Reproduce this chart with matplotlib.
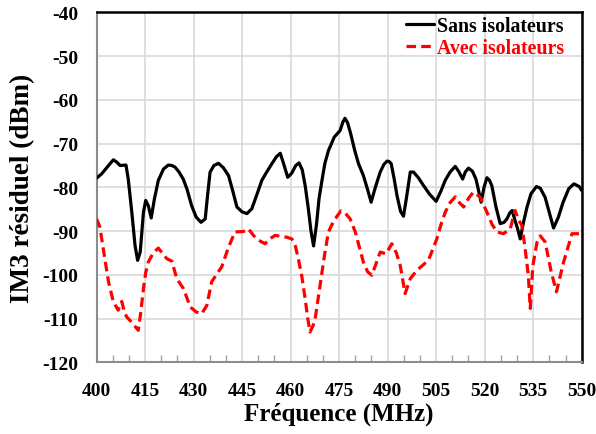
import matplotlib
matplotlib.use("Agg")
import matplotlib.pyplot as plt
from matplotlib.ticker import MultipleLocator

plt.rcParams['font.family'] = ['Liberation Serif', 'DejaVu Serif']
plt.rcParams['font.weight'] = 'bold'
plt.rcParams['axes.unicode_minus'] = False

# Sans isolateurs (black, solid)
sans_freq = [400, 401.6, 403.7, 405.2, 406.2, 407.3, 409.1, 409.8, 410.9, 411.9, 412.7, 413.5, 414.5,
             415.2, 416.0, 416.9, 417.9, 419.1, 420.7, 422.2, 423.3, 424.3, 425.5, 426.8, 428.0,
             429.4, 430.8, 432.3, 433.6, 434.3, 435.1, 436.3, 437.7, 439.2, 440.8, 442.0, 443.4,
             445.0, 446.5, 448.0, 449.5, 451.1, 452.6, 454.2, 455.6, 456.8, 457.8, 459.1, 460.3,
             461.6, 462.6, 463.6, 464.5, 465.5, 466.3, 467.1, 468.0, 468.8, 469.7, 470.6, 471.7,
             473.5, 475.3, 476.2, 476.8, 477.6, 478.5, 479.8, 481.0, 482.5, 483.8, 484.9, 486.2,
             487.7, 488.8, 489.8, 490.5, 491.1, 492.0, 492.9, 494.0, 494.9, 495.8, 497.0, 498.0,
             499.5, 501.1, 503.0, 505.0, 506.5, 507.8, 509.3, 510.9, 512.0, 513.2, 514.0, 515.0,
             516.2, 517.3, 518.2, 518.9, 519.8, 520.7, 521.5, 522.2, 523.5, 524.8, 526.0, 526.9,
             527.8, 528.5, 529.4, 530.2, 531.0, 532.0, 533.1, 534.3, 536.0, 537.2, 538.7, 540.0,
             541.3, 542.8, 544.2, 546.0, 547.6, 549.2, 550]
sans_vals = [-77.9, -76.9, -75.0, -73.7, -74.2, -75.0, -74.9, -78.1, -85.7, -93.3, -96.7, -94.8, -85.7,
             -83.0, -84.2, -87.0, -82.6, -78.4, -75.8, -74.9, -75.0, -75.4, -76.5, -78.1, -80.5,
             -84.2, -86.8, -88.0, -87.2, -82.0, -76.5, -75.0, -74.5, -75.5, -77.3, -80.5, -84.5,
             -85.6, -86.0, -84.9, -81.8, -78.4, -76.5, -74.6, -73.0, -72.2, -74.5, -77.7, -76.8,
             -75.0, -74.4, -76.0, -79.6, -85.0, -90.0, -93.4, -88.5, -82.5, -78.4, -74.5, -71.6,
             -68.5, -67.0, -65.0, -64.2, -65.2, -67.5, -71.5, -74.6, -77.3, -80.5, -83.4, -80.0,
             -76.5, -74.8, -74.0, -74.1, -74.6, -78.0, -81.9, -85.5, -86.6, -82.5, -76.5, -76.5,
             -77.8, -79.6, -81.6, -83.2, -80.8, -78.4, -76.5, -75.2, -76.4, -78.1, -76.5, -75.6,
             -76.3, -78.1, -81.0, -83.4, -80.0, -77.8, -78.4, -79.6, -84.5, -88.3, -88.0, -87.2,
             -85.8, -85.3, -87.6, -89.5, -91.8, -88.0, -84.5, -81.5, -79.8, -80.2, -82.3, -85.8,
             -89.3, -86.8, -83.5, -80.3, -79.2, -79.8, -80.7]

# Avec isolateurs (red, dashed)
avec_freq = [400, 401.0, 401.6, 402.7, 403.7, 405.2, 406.7, 407.4, 407.8, 408.6, 409.3, 411.0, 412.9,
             413.6, 414.5, 415.2, 416.0, 417.5, 419.1, 420.5, 421.7, 423.3, 424.8, 426.9, 429.0,
             430.8, 432.5, 434.1, 435.6, 437.2, 438.7, 440.8, 442.8, 445.4, 447.0, 448.5, 450.1,
             452.1, 453.5, 455.2, 457.0, 458.8, 460.4, 461.5, 462.4, 463.5, 464.5, 465.3, 466.0,
             467.0, 467.6, 468.7, 469.7, 470.7, 471.7, 472.8, 473.8, 475.5, 477.0, 478.4, 480.0,
             481.3, 482.5, 483.8, 485.1, 486.4, 487.7, 489.5, 491.3, 492.7, 493.9, 495.4, 497.0,
             499.0, 502.6, 505.2, 506.5, 507.8, 509.3, 510.9, 512.2, 513.5, 515.0, 516.5, 518.6,
             520.7, 522.3, 523.8, 525.8, 527.9, 529.4, 530.5, 531.5, 532.5, 533.5, 534.1, 534.9,
             536.2, 537.2, 538.7, 540.6, 542.2, 544.4, 547.0, 549.1, 550]
avec_vals = [-87.2, -89.0, -91.8, -97.0, -101.6, -106.2, -108.1, -106.6, -106.1, -108.5, -109.6, -111.0,
             -112.7, -109.0, -103.2, -99.5, -97.1, -95.0, -93.9, -95.2, -96.3, -96.9, -100.9, -103.2,
             -107.4, -108.5, -108.9, -107.0, -101.6, -99.8, -98.2, -93.7, -90.2, -90.1, -89.5, -91.0,
             -92.1, -92.9, -91.8, -91.0, -91.2, -91.4, -91.8, -93.5, -96.4, -100.5, -105.5, -110.0,
             -113.1, -111.5, -110.0, -104.5, -99.4, -94.5, -90.2, -88.5, -87.2, -85.4, -86.0, -87.2,
             -90.2, -93.8, -97.1, -99.3, -100.1, -97.5, -94.8, -95.2, -92.9, -95.0, -97.9, -104.3,
             -100.9, -99.0, -96.7, -91.8, -88.5, -85.7, -83.5, -82.2, -83.5, -84.5, -82.5, -81.1,
             -82.2, -85.7, -88.5, -90.2, -90.6, -89.5, -85.3, -87.5, -88.7, -94.0, -100.1, -107.7,
             -97.9, -92.5, -91.1, -92.5, -99.4, -103.9, -97.1, -90.6, -90.6, -90.5]

x_ticks = [400, 415, 430, 445, 460, 475, 490, 505, 520, 535, 550]
y_ticks = [-120, -110, -100, -90, -80, -70, -60, -50, -40]

fig = plt.figure(figsize=(5.96, 4.35), dpi=100)
ax = fig.add_axes([0.162, 0.165, 0.814, 0.804])

ax.plot(sans_freq, sans_vals, color='black', lw=2.3, solid_joinstyle='round',
        solid_capstyle='round', label='Sans isolateurs', zorder=3)
ax.plot(avec_freq, avec_vals, color='#ff0000', lw=2.3, linestyle=(0, (3, 1.6)),
        dash_joinstyle='round', label='Avec isolateurs', zorder=3)

ax.set_xlim(400, 550)
ax.set_ylim(-120, -40)
ax.set_xticks(x_ticks)
ax.set_yticks(y_ticks)
ax.xaxis.set_minor_locator(MultipleLocator(5))
ax.grid(True, which='major', color='#d9d9d9', lw=1.2, zorder=0)
ax.set_axisbelow(True)

ax.tick_params(axis='x', which='major', length=0, pad=14, labelsize=14)
ax.tick_params(axis='x', which='minor', direction='in', length=5, color='#a0a0a0', width=1)
ax.tick_params(axis='y', which='major', length=0, pad=13, labelsize=14)
for lab in ax.get_xticklabels() + ax.get_yticklabels():
    lab.set_fontweight('bold')

for s in ['left', 'bottom']:
    ax.spines[s].set_color('#8c8c8c')
    ax.spines[s].set_linewidth(1.5)
for s in ['top', 'right']:
    ax.spines[s].set_color('black')
    ax.spines[s].set_linewidth(1.8)

ax.set_xlabel('Fréquence (MHz)', fontsize=18, fontweight='bold', labelpad=2)
ax.set_ylabel('IM3 résiduel (dBm)', fontsize=19.5, fontweight='bold', labelpad=5)

leg = ax.legend(loc='upper right', bbox_to_anchor=(0.985, 1.018), frameon=False,
                handlelength=1.45, handletextpad=0.15, labelspacing=0.1,
                borderpad=0.0, prop={'size': 14.3, 'weight': 'bold'})
for txt, col in zip(leg.get_texts(), ['black', '#ff0000']):
    txt.set_color(col)

fig.savefig('out.png', dpi=100)
